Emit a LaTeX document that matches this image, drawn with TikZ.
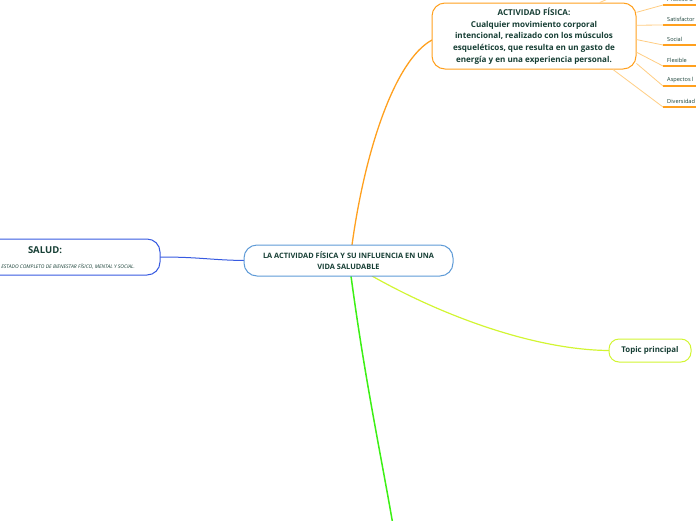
\documentclass[tikz,border=0pt]{standalone}
\usepackage{fontspec}
\setmainfont{Open Sans}
\definecolor{txt}{RGB}{23,63,53}
\definecolor{mainblue}{RGB}{95,155,215}
\definecolor{saludblue}{RGB}{55,90,225}
\definecolor{actorange}{RGB}{255,160,30}
\definecolor{subline}{RGB}{255,205,130}
\definecolor{topicyg}{RGB}{210,245,50}
\definecolor{brgreen}{RGB}{60,240,20}

\begin{document}
\begin{tikzpicture}[x=1pt,y=-1pt,
    topic/.style={draw,line width=1pt,rounded corners=13pt,fill=white,text=txt,align=center,inner sep=0pt},
    sublabel/.style={anchor=south west,inner sep=0pt,text=txt,font=\fontsize{5.6}{6}\selectfont},
    subconn/.style={subline,line width=0.8pt}]
        \useasboundingbox (0,0) rectangle (696,520);
        % Connectors from the central topic
        \coordinate (offbottom) at (393,525);
        \draw[brgreen,line width=1.5pt] (351,276) .. controls (365,380) and (380,450) .. (offbottom);
        \draw[topicyg,line width=1.2pt] (372,276) .. controls (450,320) and (540,350) .. (609,350.5);
        \draw[actorange,line width=1.3pt] (352,245) .. controls (365,150) and (395,60) .. (432,40);
        \draw[saludblue,line width=1pt] (160,257) .. controls (200,257) and (210,260) .. (244,260.5);
        % Central topic
        \node[topic,draw=mainblue,minimum width=209pt,minimum height=31pt,font=\fontsize{7.4}{10.5}\selectfont\bfseries] (main) at (348.5,260.5)
            {LA ACTIVIDAD FÍSICA Y SU INFLUENCIA EN UNA\\VIDA SALUDABLE};
        % Salud
        \node[topic,draw=saludblue,minimum width=230pt,minimum height=36pt] (salud) at (45,257) {};
        \node[text=txt,font=\fontsize{9.5}{10}\selectfont\bfseries] (saludtit) at (45,250) {SALUD:};
        \node[anchor=east,inner sep=0pt,text=txt,font=\fontsize{5}{6}\selectfont\itshape] (saluddef) at (135,266)
            {ESTADO COMPLETO DE BIENESTAR FÍSICO, MENTAL Y SOCIAL.};
        % Actividad fisica
        \node[topic,draw=actorange,minimum width=204pt,minimum height=66pt,font=\fontsize{8.1}{11.7}\selectfont\bfseries] (act) at (534,36)
            {ACTIVIDAD FÍSICA:\\Cualquier movimiento corporal\\intencional, realizado con los músculos\\esqueléticos, que resulta en un gasto de\\energía y en una experiencia personal.};
        % Topic principal
        \node[topic,draw=topicyg,rounded corners=10pt,minimum width=82pt,minimum height=23pt,font=\fontsize{7.9}{8}\selectfont\bfseries] (topic) at (650,350.5)
            {Topic principal};
        % Subtopics
        \coordinate (offtop) at (610,-2);
        \draw[subconn] (act.27) -- (offtop);
        \foreach \y/\a/\t [count=\i] in {5/13/Proceso d,25/6/Satisfactor,45/-2/Social,66/-9/Flexible,86/-15/Aspectos l,107/-23/Diversidad} {
            \node[sublabel] (sub\i) at (667,\y-3) {\t};
            \coordinate (subend\i) at (663,\y);
            \draw[actorange,line width=1.5pt] (subend\i) -- (700,\y);
            \draw[subconn] (act.\a) -- (subend\i);
        }
    \end{tikzpicture}
\end{document}
